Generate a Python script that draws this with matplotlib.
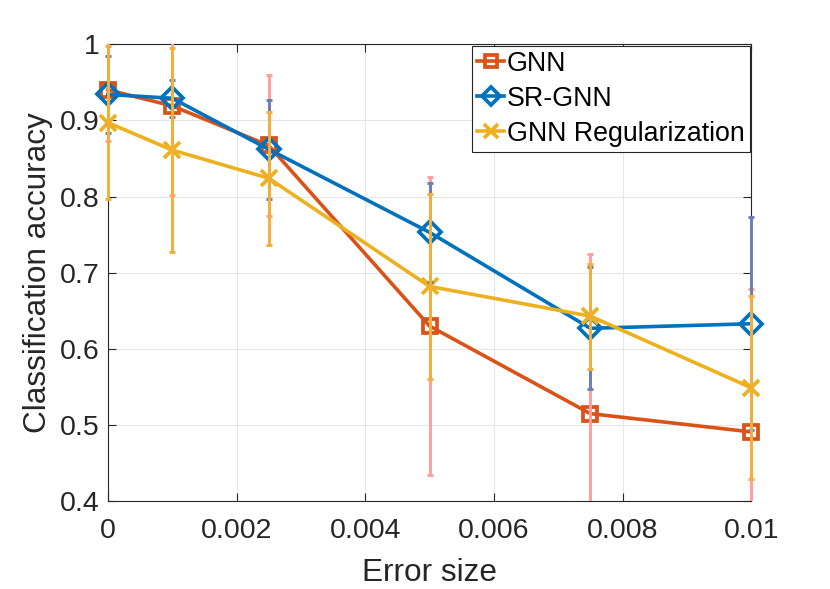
import matplotlib
matplotlib.use("Agg")
import matplotlib.pyplot as plt
from matplotlib.transforms import Bbox, TransformedBbox
import numpy as np

plt.rcParams['font.family'] = ['Liberation Sans', 'DejaVu Sans']

error_size = [0, 0.001, 0.0025, 0.005, 0.0075, 0.01]
series_names = ["GNN", "SR-GNN", "GNN Regularization"]
gnn_mean = [0.940, 0.919, 0.867, 0.630, 0.515, 0.491]
gnn_err = [0.067, 0.117, 0.093, 0.196, 0.209, 0.187]
srgnn_mean = [0.934, 0.929, 0.862, 0.753, 0.627, 0.633]
srgnn_err = [0.051, 0.024, 0.065, 0.065, 0.080, 0.140]
reg_mean = [0.897, 0.861, 0.824, 0.682, 0.643, 0.549]
reg_err = [0.100, 0.134, 0.087, 0.121, 0.069, 0.120]
xticks = [0, 0.002, 0.004, 0.006, 0.008, 0.01]
xtick_labels = ["0", "0.002", "0.004", "0.006", "0.008", "0.01"]
yticks = [0.4, 0.5, 0.6, 0.7, 0.8, 0.9, 1.0]
ytick_labels = ["0.4", "0.5", "0.6", "0.7", "0.8", "0.9", "1"]

line_colors = ["#D95319", "#0072BD", "#EDB120"]
err_colors = ["#FF9E9E", "#6A80B0", "#F5AE3A"]
markers = ["s", "D", "x"]
msizes = [10.5, 11, 11.5]

fig = plt.figure(figsize=(8.3, 5.89), dpi=100)
ax = fig.add_axes([0.130, 0.149, 0.775, 0.776])

means = [gnn_mean, srgnn_mean, reg_mean]
errs = [gnn_err, srgnn_err, reg_err]

for i in range(3):
    ax.plot(error_size, means[i], color=line_colors[i], lw=2.6, marker=markers[i],
            ms=msizes[i], mfc='none', mew=2.7, label=series_names[i],
            clip_on=False, zorder=3)

clip_box = TransformedBbox(Bbox([[-0.05, 0.0], [1.05, 1.0]]), ax.transAxes)
for i in range(3):
    eb = ax.errorbar(error_size, means[i], yerr=errs[i], fmt='none', ecolor=err_colors[i],
                     elinewidth=2.1, capsize=2.2, capthick=2.1, zorder=4)
    for art in list(eb.lines[1]) + list(eb.lines[2]):
        art.set_clip_box(clip_box)

ax.set_xlim(0, 0.01)
ax.set_ylim(0.4, 1.0)
ax.set_xticks(xticks)
ax.set_xticklabels(xtick_labels)
ax.set_yticks(yticks)
ax.set_yticklabels(ytick_labels)
ax.tick_params(direction='in', length=6, width=0.8, top=True, right=True,
               labelsize=20.5, colors='#262626')
ax.tick_params(axis='x', pad=12)
ax.tick_params(axis='y', pad=6)
for s in ax.spines.values():
    s.set_color('#262626')
    s.set_linewidth(0.8)
ax.grid(True, color='#E6E6E6', lw=0.8)
ax.set_axisbelow(True)
ax.set_xlabel("Error size", fontsize=22.7, color='#262626', labelpad=10)
ax.set_ylabel("Classification accuracy", fontsize=22.7, color='#262626', labelpad=5)

leg = ax.legend(loc='upper right', fontsize=19.3, frameon=True, fancybox=False,
                edgecolor='#262626', framealpha=1, borderaxespad=0.05,
                handlelength=1.0, handletextpad=0.1, labelspacing=0.33,
                borderpad=0.2, markerscale=0.85)
leg.get_frame().set_linewidth(0.8)

fig.savefig("out.png", dpi=100)
